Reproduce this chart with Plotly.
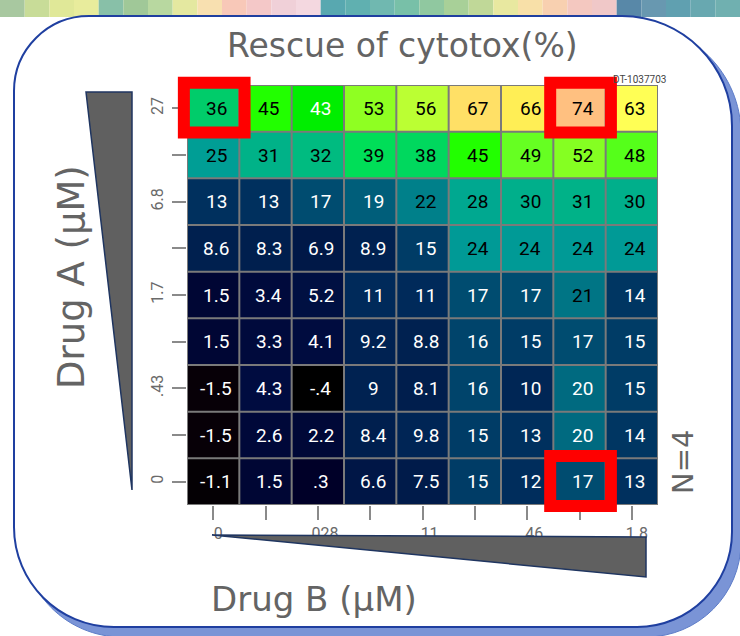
import plotly.graph_objects as go

W, H = 740, 636

# ---------------- data ----------------
drug_b_ticks = ["0", "", ".028", "", ".11", "", ".46", "", "1.8"]      # columns, left->right
drug_a_ticks = ["0", "", ".43", "", "1.7", "", "6.8", "", "27"]        # rows, bottom->top

# rows listed top (highest Drug A) to bottom (Drug A = 0)
rescue_rows_top_down = [
    [36, 45, 43, 53, 56, 67, 66, 74, 63],
    [25, 31, 32, 39, 38, 45, 49, 52, 48],
    [13, 13, 17, 19, 22, 28, 30, 31, 30],
    [8.6, 8.3, 6.9, 8.9, 15, 24, 24, 24, 24],
    [1.5, 3.4, 5.2, 11, 11, 17, 17, 21, 14],
    [1.5, 3.3, 4.1, 9.2, 8.8, 16, 15, 17, 15],
    [-1.5, 4.3, -0.4, 9, 8.1, 16, 10, 20, 15],
    [-1.5, 2.6, 2.2, 8.4, 9.8, 15, 13, 20, 14],
    [-1.1, 1.5, 0.3, 6.6, 7.5, 15, 12, 17, 13],
]
z = rescue_rows_top_down[::-1]   # row 0 = bottom

highlight_cells = [(8, 0), (8, 7), (0, 7)]   # (row from bottom, column)
white_text_override = [(8, 2)]

# colour scale (value -> colour)
cs_values = [-1.5, -0.4, 0.3, 1.5, 4.3, 6.6, 8.6, 11, 13, 15, 17, 19, 20, 22, 24, 28, 31, 32, 36, 39, 43, 45, 49, 53, 56, 63, 66, 67, 74]
cs_colors = ["#070007", "#000000", "#000028", "#000634", "#000c40", "#001646", "#00204f", "#002a5a",
             "#00305e", "#003c66", "#004c70", "#005e7a", "#006a80", "#00808a", "#009a96", "#00a890",
             "#00b288", "#00bb80", "#00cc6a", "#00de58", "#00ee00", "#22ff00", "#66ff22", "#8fff22",
             "#bbff33", "#ffff55", "#ffee55", "#ffe066", "#ffc080"]

strip_colors = ["#a8c8a0", "#c8dc98", "#e0e898", "#e8ec9c", "#88c0a8", "#a0c898", "#b8d8a0", "#e4e8a0",
                "#f8e0b0", "#f8c8b8", "#f4c8c8", "#f0d0d8", "#f4d8e0", "#58a8b0", "#60b0b0", "#70b8b0",
                "#78c0a8", "#90c8a0", "#a8d098", "#c0d898", "#e8e8a0", "#f8e0a8", "#f8d0b0", "#f4c8c0",
                "#f0c8c8", "#5888a8", "#6898b0", "#60a0b0", "#68a8b0", "#70b0b0"]

# ---------------- helpers ----------------
def X(px):
    return px / W

def Y(py):
    return 1 - py / H

def fmt(v):
    if float(v).is_integer():
        return str(int(v))
    s = f"{v:g}"
    return s.replace("0.", ".")

def rounded_path(l, t, r, b, rtl, rtr, rbr, rbl):
    k = 0.5523
    p = []
    p.append(f"M {X(l + rtl)},{Y(t)}")
    p.append(f"L {X(r - rtr)},{Y(t)}")
    p.append(f"C {X(r - rtr + k * rtr)},{Y(t)} {X(r)},{Y(t + rtr - k * rtr)} {X(r)},{Y(t + rtr)}")
    p.append(f"L {X(r)},{Y(b - rbr)}")
    p.append(f"C {X(r)},{Y(b - rbr + k * rbr)} {X(r - rbr + k * rbr)},{Y(b)} {X(r - rbr)},{Y(b)}")
    p.append(f"L {X(l + rbl)},{Y(b)}")
    p.append(f"C {X(l + rbl - k * rbl)},{Y(b)} {X(l)},{Y(b - rbl + k * rbl)} {X(l)},{Y(b - rbl)}")
    p.append(f"L {X(l)},{Y(t + rtl)}")
    p.append(f"C {X(l)},{Y(t + rtl - k * rtl)} {X(l + rtl - k * rtl)},{Y(t)} {X(l + rtl)},{Y(t)}")
    p.append("Z")
    return " ".join(p)

def poly_path(pts):
    return "M " + " L ".join(f"{X(a)},{Y(b)}" for a, b in pts) + " Z"

# ---------------- figure ----------------
zmin, zmax = cs_values[0], cs_values[-1]
colorscale = [[(v - zmin) / (zmax - zmin), c] for v, c in zip(cs_values, cs_colors)]

ncol = len(drug_b_ticks)
nrow = len(drug_a_ticks)

fig = go.Figure(go.Heatmap(
    z=z, x=list(range(ncol)), y=list(range(nrow)),
    colorscale=colorscale, zmin=zmin, zmax=zmax, showscale=False,
    hoverinfo="skip",
))

shapes = []
# decorative strip at top
sw = W / len(strip_colors)
for i, c in enumerate(strip_colors):
    shapes.append(dict(type="rect", xref="paper", yref="paper", x0=X(i * sw), x1=X((i + 1) * sw),
                       y0=Y(17), y1=Y(0), fillcolor=c, line=dict(width=0), layer="below"))
# shadow + panel
shapes.append(dict(type="path", xref="paper", yref="paper",
                   path=rounded_path(22, 24, 741, 637, 75, 110, 95, 100),
                   fillcolor="#7a94d6", line=dict(color="#5d7cc8", width=1), layer="below"))
shapes.append(dict(type="path", xref="paper", yref="paper",
                   path=rounded_path(14, 16, 732, 627, 75, 110, 95, 100),
                   fillcolor="white", line=dict(color="#1f3fa0", width=2), layer="below"))

# grid lines between cells
for i in range(ncol + 1):
    shapes.append(dict(type="line", xref="x", yref="y", x0=i - 0.5, x1=i - 0.5, y0=-0.5, y1=nrow - 0.5,
                       line=dict(color="#7a7a7a", width=2), layer="above"))
for j in range(nrow + 1):
    shapes.append(dict(type="line", xref="x", yref="y", x0=-0.5, x1=ncol - 0.5, y0=j - 0.5, y1=j - 0.5,
                       line=dict(color="#7a7a7a", width=2), layer="above"))

# highlight boxes (domain-referenced so they are not clipped at the plot edge)
for (r, c) in highlight_cells:
    shapes.append(dict(type="rect", xref="x domain", yref="y domain",
                       x0=(c - 0.06) / ncol, x1=(c + 1.1) / ncol,
                       y0=(r - 0.02) / nrow, y1=(r + 1.05) / nrow,
                       line=dict(color="#ff0000", width=12), fillcolor="rgba(0,0,0,0)", layer="above"))

# concentration wedges
shapes.append(dict(type="path", xref="paper", yref="paper",
                   path=poly_path([(86, 92), (132, 92), (132, 490)]),
                   fillcolor="#606060", line=dict(color="#1f3560", width=1.5), layer="above"))
shapes.append(dict(type="path", xref="paper", yref="paper",
                   path=poly_path([(212, 535), (646, 537), (646, 577)]),
                   fillcolor="#606060", line=dict(color="#1f3560", width=1.5), layer="above"))

annotations = []
for r in range(nrow):
    for c in range(ncol):
        v = z[r][c]
        white = v <= 20 or (r, c) in white_text_override
        annotations.append(dict(x=c, y=r, xref="x", yref="y", text=fmt(v), showarrow=False, xshift=3,
                                font=dict(family="Roboto", size=19, color="white" if white else "black")))

grey = "#646464"
lab_font = "DejaVu Sans"
annotations += [
    dict(x=X(402), y=Y(45), xref="paper", yref="paper", text="Rescue of cytotox(%)", showarrow=False,
         font=dict(family=lab_font, size=33, color=grey), xanchor="center", yanchor="middle"),
    dict(x=X(314), y=Y(599), xref="paper", yref="paper", text="Drug B (μM)", showarrow=False,
         font=dict(family=lab_font, size=34, color=grey), xanchor="center", yanchor="middle"),
    dict(x=X(71), y=Y(277), xref="paper", yref="paper", text="Drug A (μM)", showarrow=False, textangle=-90,
         font=dict(family=lab_font, size=37, color=grey), xanchor="center", yanchor="middle"),
    dict(x=X(683), y=Y(462), xref="paper", yref="paper", text="N=4", showarrow=False, textangle=-90,
         font=dict(family=lab_font, size=29, color=grey), xanchor="center", yanchor="middle"),
    dict(x=X(668), y=Y(80), xref="paper", yref="paper", text="DT-1037703", showarrow=False,
         font=dict(family="Roboto", size=10, color="#444"), xanchor="right", yanchor="middle"),
]

tickfont = dict(family="Roboto", size=16, color="#6a6a6a")
fig.update_layout(
    width=W, height=H, margin=dict(l=0, r=0, t=0, b=0),
    paper_bgcolor="white", plot_bgcolor="white",
    shapes=shapes, annotations=annotations, showlegend=False,
    xaxis=dict(domain=[X(187), X(658)], range=[-0.5, ncol - 0.5], tickmode="array",
               tickvals=list(range(ncol)), ticktext=drug_b_ticks, ticks="outside", ticklen=14,
               tickcolor="#8a8a8a", tickwidth=1.5, showgrid=False, zeroline=False, showline=False,
               tickfont=tickfont, ticklabelshift=5, fixedrange=True),
    yaxis=dict(domain=[Y(505), Y(85)], range=[-0.5, nrow - 0.5], tickmode="array",
               tickvals=list(range(nrow)), ticktext=drug_a_ticks, ticks="outside", ticklen=14,
               tickcolor="#8a8a8a", tickwidth=1.5, showgrid=False, zeroline=False, showline=False,
               tickfont=tickfont, tickangle=-90, ticklabelstandoff=3, fixedrange=True),
)

fig.write_html("out.html", config={"displayModeBar": False},
               post_script="document.body.style.margin='0';document.body.style.overflow='hidden';")
